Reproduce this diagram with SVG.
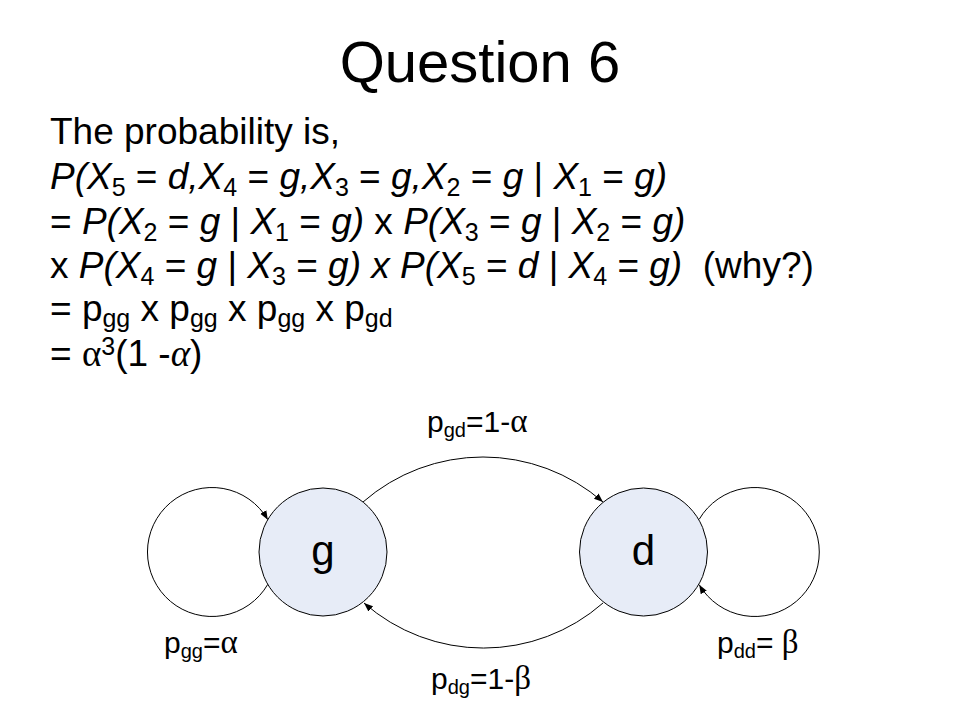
<svg xmlns="http://www.w3.org/2000/svg" width="960" height="720" viewBox="0 0 960 720">
<style>
  text { font-family: "Liberation Sans", Arial, sans-serif; fill: #000; }
  .title { font-size: 58px; }
  .body { font-size: 37px; }
  .i { font-style: italic; }
  .sub { font-size: 25px; }
  .gr { font-family: "Liberation Serif", "Times New Roman", serif; }
  .lbl { font-size: 30px; }
  .lsub { font-size: 20px; }
  .lgr { font-family: "Liberation Serif", "Times New Roman", serif; font-size: 33px; }
  .node-c { fill: #E7ECF7; stroke: #000; stroke-width: 1; }
  .node-t { font-size: 42px; text-anchor: middle; }
  .edge { fill: none; stroke: #000; stroke-width: 1; }
</style>
<defs>
  <marker id="arr" markerUnits="userSpaceOnUse" markerWidth="10" markerHeight="8" refX="9" refY="3.5" orient="auto">
    <path d="M0,0 L9,3.5 L0,7 z" fill="#000"/>
  </marker>
</defs>
<rect width="960" height="720" fill="#fff"/>

<text class="title" x="480" y="82" text-anchor="middle">Question 6</text>

<g id="text-block">
  <text class="body" x="50" y="144">The probability is,</text>
  <text class="body" x="50" y="189"><tspan class="i">P(X</tspan><tspan class="sub" dy="7">5</tspan><tspan dy="-7"> = </tspan><tspan class="i">d,X</tspan><tspan class="sub" dy="7">4</tspan><tspan dy="-7"> = </tspan><tspan class="i">g,X</tspan><tspan class="sub" dy="7">3</tspan><tspan dy="-7"> = </tspan><tspan class="i">g,X</tspan><tspan class="sub" dy="7">2</tspan><tspan dy="-7"> = </tspan><tspan class="i">g</tspan><tspan> | </tspan><tspan class="i">X</tspan><tspan class="sub" dy="7">1</tspan><tspan dy="-7"> = </tspan><tspan class="i">g)</tspan></text>
  <text class="body" x="50" y="234"><tspan>= </tspan><tspan class="i">P(X</tspan><tspan class="sub" dy="7">2</tspan><tspan dy="-7"> = </tspan><tspan class="i">g</tspan><tspan> | </tspan><tspan class="i">X</tspan><tspan class="sub" dy="7">1</tspan><tspan dy="-7"> = </tspan><tspan class="i">g)</tspan><tspan> x </tspan><tspan class="i">P(X</tspan><tspan class="sub" dy="7">3</tspan><tspan dy="-7"> = </tspan><tspan class="i">g</tspan><tspan> | </tspan><tspan class="i">X</tspan><tspan class="sub" dy="7">2</tspan><tspan dy="-7"> = </tspan><tspan class="i">g)</tspan></text>
  <text class="body" x="50" y="278"><tspan>x </tspan><tspan class="i">P(X</tspan><tspan class="sub" dy="7">4</tspan><tspan dy="-7"> = </tspan><tspan class="i">g</tspan><tspan> | </tspan><tspan class="i">X</tspan><tspan class="sub" dy="7">3</tspan><tspan dy="-7"> = </tspan><tspan class="i">g) x P(X</tspan><tspan class="sub" dy="7">5</tspan><tspan dy="-7"> = </tspan><tspan class="i">d</tspan><tspan> | </tspan><tspan class="i">X</tspan><tspan class="sub" dy="7">4</tspan><tspan dy="-7"> = </tspan><tspan class="i">g)</tspan><tspan>&#160; (why?)</tspan></text>
  <text class="body" x="50" y="321"><tspan>= p</tspan><tspan class="sub" dy="6">gg</tspan><tspan dy="-6"> x p</tspan><tspan class="sub" dy="6">gg</tspan><tspan dy="-6"> x p</tspan><tspan class="sub" dy="6">gg</tspan><tspan dy="-6"> x p</tspan><tspan class="sub" dy="6">gd</tspan></text>
  <text class="body" x="50" y="366"><tspan>= </tspan><tspan class="gr">α</tspan><tspan class="sub" dy="-11">3</tspan><tspan dy="11">(1 -</tspan><tspan class="gr i">α</tspan><tspan>)</tspan></text>
</g>

<g id="connectors">
  <path id="e-gg" class="edge" d="M267.8,584.3 A64.5,64.5 0 1 1 267.8,519.7" marker-end="url(#arr)"/>
  <path id="e-dd" class="edge" d="M699.2,519.3 A64.5,64.5 0 1 1 699.2,584.7" marker-end="url(#arr)"/>
  <path id="e-gd" class="edge" d="M363,502 A182.5,182.5 0 0 1 603,502" marker-end="url(#arr)"/>
  <path id="e-dg" class="edge" d="M603,603 A181,181 0 0 1 364,603" marker-end="url(#arr)"/>
</g>

<g id="node-g">
  <circle class="node-c" cx="323" cy="552" r="64"/>
  <text class="node-t" x="323" y="565">g</text>
</g>
<g id="node-d">
  <circle class="node-c" cx="643.5" cy="552" r="64"/>
  <text class="node-t" x="643.5" y="565">d</text>
</g>

<g id="labels">
  <text class="lbl" x="427" y="432"><tspan>p</tspan><tspan class="lsub" dy="5">gd</tspan><tspan dy="-5">=1-</tspan><tspan class="lgr">α</tspan></text>
  <text class="lbl" x="164" y="653"><tspan>p</tspan><tspan class="lsub" dy="5">gg</tspan><tspan dy="-5">=</tspan><tspan class="lgr">α</tspan></text>
  <text class="lbl" x="717" y="653"><tspan>p</tspan><tspan class="lsub" dy="5">dd</tspan><tspan dy="-5">= </tspan><tspan class="lgr">β</tspan></text>
  <text class="lbl" x="431" y="689"><tspan>p</tspan><tspan class="lsub" dy="5">dg</tspan><tspan dy="-5">=1-</tspan><tspan class="lgr">β</tspan></text>
</g>
</svg>
